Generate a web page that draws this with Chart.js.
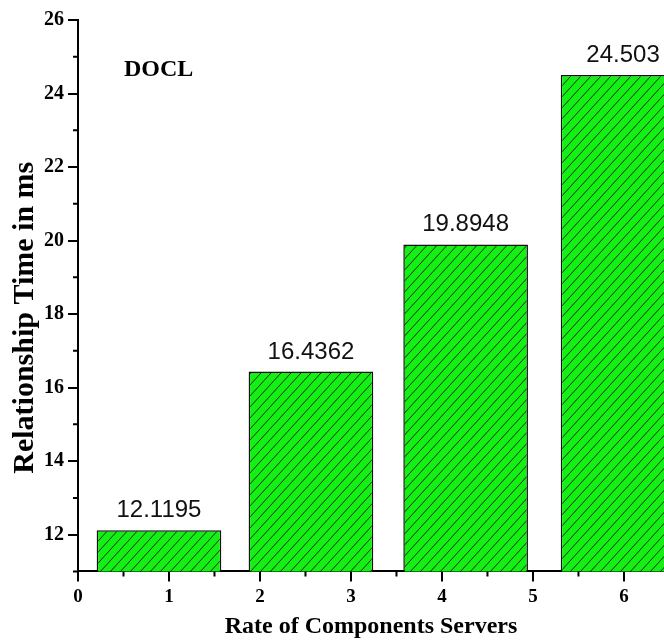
<!DOCTYPE html>
<html>
<head>
<meta charset="utf-8">
<script src="https://cdn.jsdelivr.net/npm/chart.js@4"></script>
<style>
  html, body { margin: 0; padding: 0; background: #fff; overflow: hidden; }
  #wrap { width: 664px; height: 643px; position: relative; }
</style>
</head>
<body>
<div id="wrap"><canvas id="doclChart"></canvas></div>
<script>
const serverRate = [0.89, 2.56, 4.26, 5.99];
const relTime = [12.1195, 16.4362, 19.8948, 24.503];
const valueLabels = ["12.1195", "16.4362", "19.8948", "24.503"];
const xTicks = [0, 1, 2, 3, 4, 5, 6];
const xMinorTicks = [0.5, 1.5, 2.5, 3.5, 4.5, 5.5];
const yTicks = [12, 14, 16, 18, 20, 22, 24, 26];
const yMinorTicks = [11, 13, 15, 17, 19, 21, 23, 25];

const serif = "'Liberation Serif', 'Times New Roman', serif";
const sans = "'Liberation Sans', Arial, sans-serif";

// green fill with "/" hatching
function hatch() {
  const w = 10, h = 11;
  const c = document.createElement("canvas");
  c.width = w; c.height = h;
  const g = c.getContext("2d");
  g.fillStyle = "#14f014";
  g.fillRect(0, 0, w, h);
  g.strokeStyle = "#0b300b";
  g.lineWidth = 1;
  g.beginPath();
  g.moveTo(0, h); g.lineTo(w, 0);
  g.moveTo(-w, h); g.lineTo(0, 0);
  g.moveTo(w, h); g.lineTo(2 * w, 0);
  g.stroke();
  return g.createPattern(c, "repeat");
}

const extras = {
  id: "extras",
  afterDatasetsDraw(chart) {
    const ctx = chart.ctx;
    ctx.save();
    ctx.fillStyle = "#111";
    ctx.font = "24px " + sans;
    ctx.textAlign = "center";
    ctx.textBaseline = "alphabetic";
    chart.getDatasetMeta(0).data.forEach((bar, i) => {
      ctx.fillText(valueLabels[i], bar.x, bar.y - 13);
    });
    ctx.restore();
  },
  afterDraw(chart) {
    const ctx = chart.ctx;
    const x = chart.scales.x, y = chart.scales.y;
    const area = chart.chartArea;
    ctx.save();
    ctx.strokeStyle = "#000";
    ctx.lineWidth = 2;
    ctx.beginPath();
    yMinorTicks.forEach(v => {
      const py = y.getPixelForValue(v);
      ctx.moveTo(area.left - 5, py);
      ctx.lineTo(area.left, py);
    });
    xMinorTicks.forEach(v => {
      const px = x.getPixelForValue(v);
      ctx.moveTo(px, area.bottom);
      ctx.lineTo(px, area.bottom + 5);
    });
    ctx.stroke();
    ctx.fillStyle = "#000";
    ctx.font = "bold 24px " + serif;
    ctx.textAlign = "left";
    ctx.textBaseline = "alphabetic";
    ctx.fillText("DOCL", area.left + 46, area.top + 56);

    // y axis title, sitting a little below the middle as in the original
    ctx.translate(25, y.getPixelForValue(17.9));
    ctx.rotate(-Math.PI / 2);
    ctx.font = "bold 30px " + serif;
    ctx.textAlign = "center";
    ctx.textBaseline = "middle";
    ctx.fillText("Relationship Time in ms", 0, 0);
    ctx.restore();
  }
};

new Chart(document.getElementById("doclChart"), {
  type: "bar",
  data: {
    datasets: [
      {
        label: "DOCL",
        data: serverRate.map((x, i) => ({ x: x, y: relTime[i] })),
        backgroundColor: hatch(),
        borderColor: "#111",
        borderWidth: 1.5,
        borderSkipped: false,
        barPercentage: 1.37,
        categoryPercentage: 1,
      },
    ],
  },
  options: {
    responsive: true,
    maintainAspectRatio: false,
    animation: false,
    layout: { padding: { top: 20, right: 0, left: 40, bottom: 2 } },
    scales: {
      x: {
        type: "linear",
        offset: false,
        min: 0,
        max: 6.44,
        afterBuildTicks: (s) => { s.ticks = xTicks.map(v => ({ value: v })); },
        ticks: {
          color: "#000",
          font: { family: serif, size: 19, weight: "bold" },
          padding: 4,
          maxRotation: 0,
        },
        grid: { offset: false, drawOnChartArea: false, drawTicks: true, tickLength: 10, color: "#000", lineWidth: 2 },
        border: { display: true, color: "#000", width: 2 },
        title: {
          display: true,
          text: "Rate of Components Servers",
          color: "#000",
          font: { family: serif, size: 24, weight: "bold" },
          padding: { top: 0, bottom: 0 },
        },
      },
      y: {
        min: 11,
        max: 26,
        afterBuildTicks: (s) => { s.ticks = yTicks.map(v => ({ value: v })); },
        ticks: {
          color: "#000",
          font: { family: serif, size: 20, weight: "bold" },
          padding: 4,
        },
        grid: { drawOnChartArea: false, drawTicks: true, tickLength: 10, color: "#000", lineWidth: 2 },
        border: { display: true, color: "#000", width: 2 },
      },
    },
    plugins: {
      legend: { display: false },
      tooltip: { enabled: false },
    },
  },
  plugins: [extras],
});
</script>
</body>
</html>
